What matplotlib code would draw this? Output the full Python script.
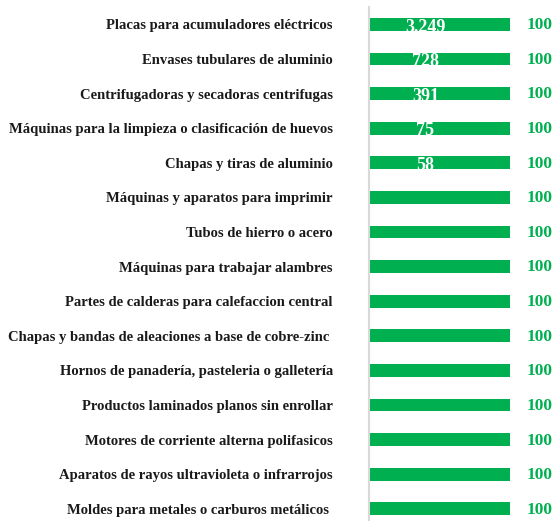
import matplotlib
matplotlib.use("Agg")
import matplotlib.pyplot as plt

categories = [
    "Placas para acumuladores eléctricos",
    "Envases tubulares de aluminio",
    "Centrifugadoras y secadoras centrifugas",
    "Máquinas para la limpieza o clasificación de huevos",
    "Chapas y tiras de aluminio",
    "Máquinas y aparatos para imprimir",
    "Tubos de hierro o acero",
    "Máquinas para trabajar alambres",
    "Partes de calderas para calefaccion central",
    "Chapas y bandas de aleaciones a base de cobre-zinc ",
    "Hornos de panadería, pasteleria o galletería",
    "Productos laminados planos sin enrollar",
    "Motores de corriente alterna polifasicos",
    "Aparatos de rayos ultravioleta o infrarrojos",
    "Moldes para metales o carburos metálicos ",
]
values = [100] * 15
inner_labels = ["3.249", "728", "391", "75", "58"] + [""] * 10

GREEN = "#00B050"
FONT = "Liberation Serif"

fig = plt.figure(figsize=(5.55, 5.21), dpi=100)
ax = fig.add_axes([369 / 555, 0, 141 / 555, 514 / 521])
y = list(range(len(categories)))
bar_h = 0.37
ax.barh(y, values, height=bar_h, color=GREEN)
ax.set_xlim(0, 100)
ax.set_ylim(14.35, -0.5)
ax.set_yticks(y)
ax.set_yticklabels(categories, fontfamily=FONT, fontweight="bold", fontsize=10.5, color="#1a1a1a")
ax.tick_params(axis="y", length=0, pad=26)
ax.set_xticks([])
for s in ["top", "right", "bottom"]:
    ax.spines[s].set_visible(False)
ax.spines["left"].set_color("#D9D9D9")
ax.spines["left"].set_linewidth(1.5)

for yi, v, lab in zip(y, values, inner_labels):
    ax.text(v + 12, yi + 0.14, f"{v}", ha="left", va="baseline", color=GREEN,
            fontfamily=FONT, fontweight="bold", fontsize=12.5, clip_on=False)
    if lab:
        ax.text(v * 0.4, yi - bar_h / 2 + 0.02, lab, ha="center", va="top", color="white",
                fontfamily=FONT, fontweight="bold", fontsize=13, clip_on=False)

fig.savefig("out.png", dpi=100)
